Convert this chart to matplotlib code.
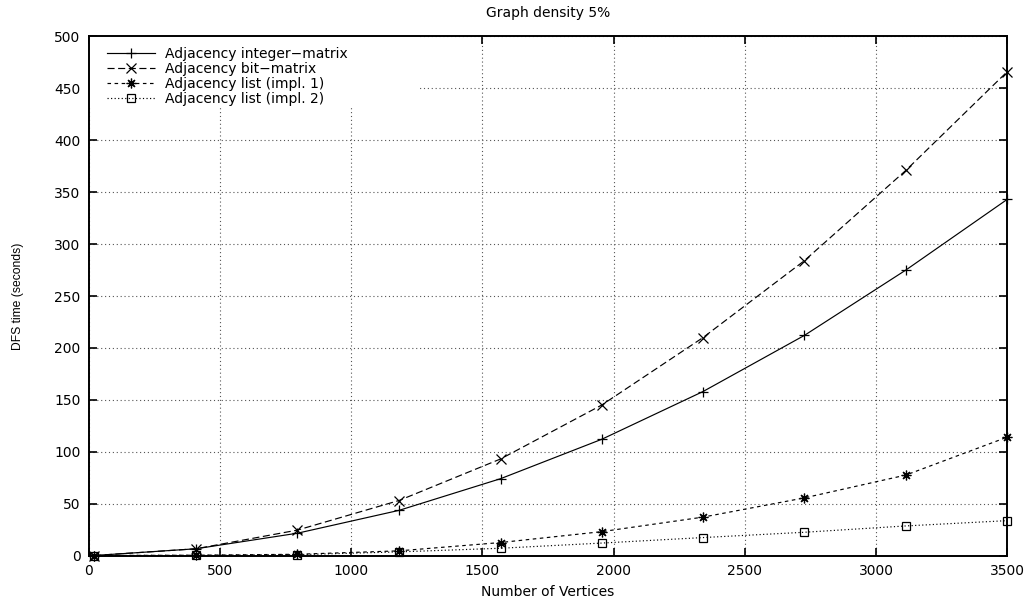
import matplotlib
matplotlib.use("Agg")
import matplotlib.pyplot as plt
from matplotlib.patches import Rectangle

vertices = [20, 408, 795, 1182, 1569, 1955, 2341, 2727, 3114, 3500]
integer_matrix = [0, 6.5, 21.5, 43.5, 74, 112, 158, 212, 275, 343]
bit_matrix = [0, 6.5, 24.5, 53, 93, 145, 210, 284, 371, 466]
list_impl1 = [0, 0.3, 1.2, 4.5, 12.5, 23, 37, 55.5, 77.5, 114]
list_impl2 = [0, 0.2, 0.8, 3.5, 7, 12, 17.3, 22.4, 28.5, 33.6]

x_ticks = [0, 500, 1000, 1500, 2000, 2500, 3000, 3500]
y_ticks = [0, 50, 100, 150, 200, 250, 300, 350, 400, 450, 500]

plt.rcParams["font.family"] = ["DejaVu Sans"]

fig = plt.figure(figsize=(10.34, 6.06), dpi=100)
ax = fig.add_axes([0.086, 0.0833, 0.888, 0.8565])

series = [
    ("Adjacency integer\u2212matrix", integer_matrix, "-", "+", None),
    ("Adjacency bit\u2212matrix", bit_matrix, (0, (6, 3)), "x", None),
    ("Adjacency list (impl. 1)", list_impl1, (0, (3, 3)), (8, 2, 0), None),
    ("Adjacency list (impl. 2)", list_impl2, (0, (1, 2)), "s", "none"),
]
for label, ys, ls, mk, mfc in series:
    kw = {}
    if mfc is not None:
        kw["markerfacecolor"] = mfc
    ax.plot(vertices, ys, color="black", linestyle=ls, linewidth=0.85,
            marker=mk, markersize=7 if mk != "s" else 6,
            markeredgewidth=0.9, label=label, clip_on=False, zorder=3, **kw)

ax.set_xlim(0, 3500)
ax.set_ylim(0, 500)
ax.set_xticks(x_ticks)
ax.set_yticks(y_ticks)
ax.tick_params(direction="in", length=6, width=1.2, top=True, right=True,
               labelsize=10, pad=6)
ax.grid(True, linestyle=(0, (1, 2.5)), color="#555555", linewidth=0.8)
for spine in ax.spines.values():
    spine.set_linewidth(1.4)

# white key area like gnuplot, hides the grid behind the legend
ax.add_patch(Rectangle((0, 0.862), 0.36, 0.138, transform=ax.transAxes,
                       facecolor="white", edgecolor="none", zorder=1.6))

ax.set_title("Graph density 5%", fontsize=10, pad=14)
ax.set_xlabel("Number of Vertices", fontsize=10, labelpad=5)
ax.set_ylabel("DFS time (seconds)", fontsize=8.7, labelpad=22,
              family="Liberation Sans")

leg = ax.legend(loc="upper left", bbox_to_anchor=(0.012, 0.993), fontsize=10,
                handlelength=3.5, handletextpad=0.7, labelspacing=0.06,
                borderpad=0.5, frameon=False, borderaxespad=0.0)

fig.savefig("out.png", dpi=100)
